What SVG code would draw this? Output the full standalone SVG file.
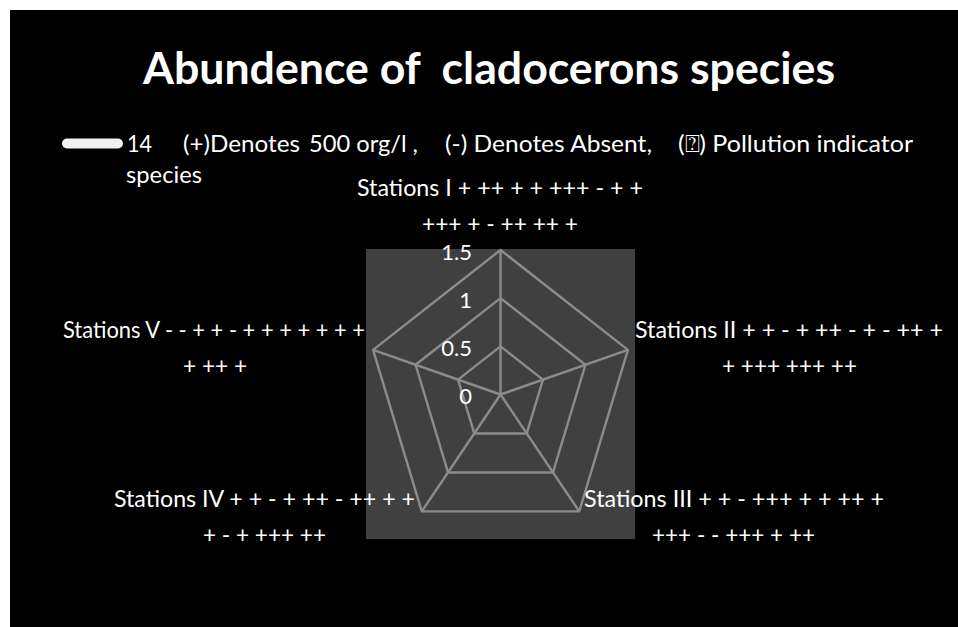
<svg xmlns="http://www.w3.org/2000/svg" width="958" height="627" viewBox="0 0 958 627">
  <style>
    .t { font-family: Lato, "Liberation Sans", "DejaVu Sans", sans-serif; fill: #ffffff; white-space: pre; }
    .title { font-size: 43px; font-weight: bold; }
    .lg { font-size: 24px; }
    .st { font-size: 24px; }
    .ax { font-size: 22px; text-anchor: end; }
    .grid { fill: none; stroke: #8c8c8c; stroke-width: 2.4; stroke-linejoin: round; }
  </style>
  <rect x="0" y="0" width="958" height="627" fill="#ffffff"/>
  <rect x="10" y="10" width="948" height="617" fill="#000000"/>

  <g id="title">
    <text class="t title" x="143" y="84" textLength="692" lengthAdjust="spacingAndGlyphs">Abundence of  cladocerons species</text>
  </g>

  <g id="legend">
    <line x1="67" y1="143.5" x2="118" y2="143.5" stroke="#f2f2f2" stroke-width="10" stroke-linecap="round"/>
    <text class="t lg" x="127" y="152" textLength="25" lengthAdjust="spacingAndGlyphs">14</text>
    <text class="t lg" x="183" y="152" textLength="117" lengthAdjust="spacingAndGlyphs">(+)Denotes</text>
    <text class="t lg" x="309" y="152" textLength="109" lengthAdjust="spacingAndGlyphs">500 org/l ,</text>
    <text class="t lg" x="445" y="152" textLength="207" lengthAdjust="spacingAndGlyphs">(-) Denotes Absent,</text>
    <text class="t lg" x="678" y="152" textLength="235" lengthAdjust="spacingAndGlyphs">(⍰) Pollution indicator</text>
    <text class="t lg" x="126" y="183" textLength="76" lengthAdjust="spacingAndGlyphs">species</text>
  </g>

  <g id="chart">
    <rect id="plot-area" x="366" y="249" width="269" height="290" fill="#404040"/>
    <g id="grid">
      <polygon class="grid" points="500.5,250 627.9,349.85 579.26,511.4 421.74,511.4 373.1,349.85"/>
      <polygon class="grid" points="500.5,298.17 585.43,364.73 553.01,472.43 447.99,472.43 415.57,364.73"/>
      <polygon class="grid" points="500.5,346.33 542.97,379.62 526.75,433.47 474.25,433.47 458.03,379.62"/>
    </g>
    <g id="connectors">
      <line class="grid" x1="500.5" y1="394.5" x2="500.5" y2="250"/>
      <line class="grid" x1="500.5" y1="394.5" x2="627.9" y2="349.85"/>
      <line class="grid" x1="500.5" y1="394.5" x2="579.26" y2="511.4"/>
      <line class="grid" x1="500.5" y1="394.5" x2="421.74" y2="511.4"/>
      <line class="grid" x1="500.5" y1="394.5" x2="373.1" y2="349.85"/>
    </g>
    <g id="axis-labels">
      <text class="t ax" x="472" y="260">1.5</text>
      <text class="t ax" x="472" y="308">1</text>
      <text class="t ax" x="472" y="356">0.5</text>
      <text class="t ax" x="472" y="404">0</text>
    </g>
  </g>

  <g id="station-1">
    <text class="t st" x="357" y="196" textLength="286" lengthAdjust="spacingAndGlyphs">Stations I + ++ + + +++ - + +</text>
    <text class="t st" x="422" y="232" textLength="156" lengthAdjust="spacingAndGlyphs">+++ + - ++ ++ +</text>
  </g>
  <g id="station-2">
    <text class="t st" x="635" y="338" textLength="308" lengthAdjust="spacingAndGlyphs">Stations II + + - + ++ - + - ++ +</text>
    <text class="t st" x="722" y="374" textLength="135" lengthAdjust="spacingAndGlyphs">+ +++ +++ ++</text>
  </g>
  <g id="station-3">
    <text class="t st" x="584" y="507" textLength="300" lengthAdjust="spacingAndGlyphs">Stations III + + - +++ + + ++ +</text>
    <text class="t st" x="652" y="543" textLength="163" lengthAdjust="spacingAndGlyphs">+++ - - +++ + ++</text>
  </g>
  <g id="station-4">
    <text class="t st" x="114" y="507" textLength="301" lengthAdjust="spacingAndGlyphs">Stations IV + + - + ++ - ++ + +</text>
    <text class="t st" x="203" y="543" textLength="123" lengthAdjust="spacingAndGlyphs">+ - + +++ ++</text>
  </g>
  <g id="station-5">
    <text class="t st" x="63" y="338" textLength="302" lengthAdjust="spacingAndGlyphs">Stations V - - + + - + + + + + + +</text>
    <text class="t st" x="183" y="374" textLength="64" lengthAdjust="spacingAndGlyphs">+ ++ +</text>
  </g>
</svg>
